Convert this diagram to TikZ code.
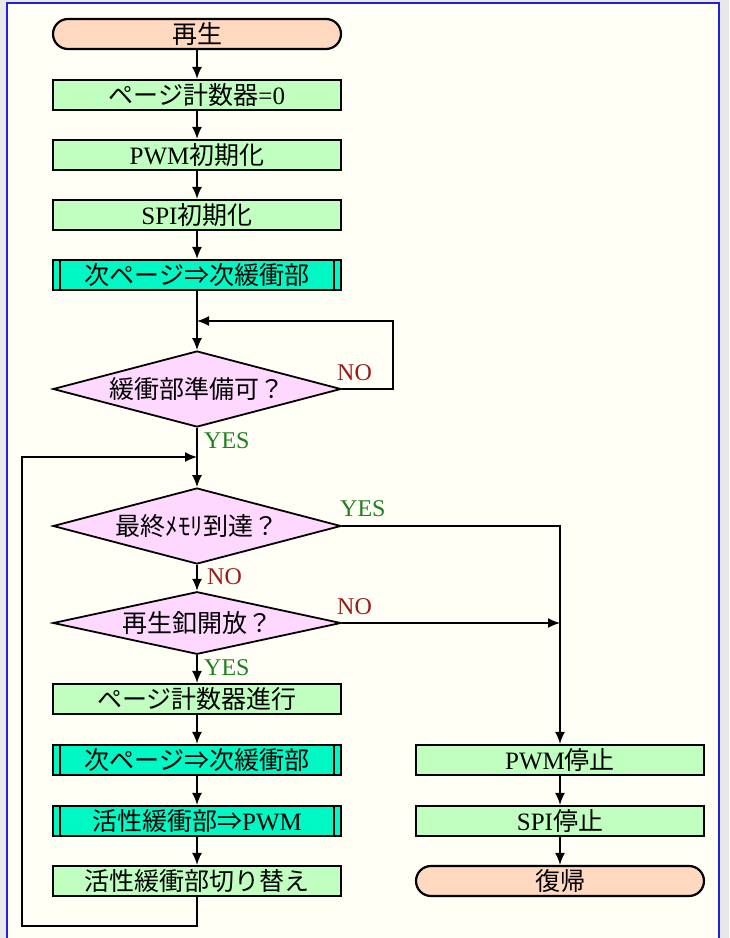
\documentclass[tikz,border=0pt]{standalone}
\usepackage{fontspec}
\setmainfont{Liberation Serif}
\newfontfamily\jp{Noto Sans CJK JP}
\usetikzlibrary{shapes.geometric,arrows.meta}
\newcommand\J[1]{{\jp #1}}
\definecolor{outergray}{HTML}{E8E8E8}
\definecolor{ivory}{HTML}{FFFFF6}
\definecolor{frameblue}{HTML}{2020E0}
\definecolor{peach}{HTML}{FFD8C0}
\definecolor{procgreen}{HTML}{C0FFC0}
\definecolor{tealfill}{HTML}{00F8C4}
\definecolor{pinkfill}{HTML}{FFD8FF}
\definecolor{yesgreen}{HTML}{1E801E}
\definecolor{nored}{HTML}{9A1A1A}
\begin{document}
\begin{tikzpicture}[x=1pt,y=-1pt,
  txt/.style={font=\fontsize{25}{27}\selectfont},
  proc/.style={draw, line width=2.2pt, fill=procgreen, minimum width=288pt, minimum height=30pt, inner sep=0pt, txt},
  term/.style={proc, fill=peach, rounded corners=15pt},
  pre/.style={proc, fill=tealfill},
  dec/.style={diamond, draw, line width=1.8pt, fill=pinkfill, aspect=3.8, minimum width=288pt, minimum height=76pt, inner sep=0pt, txt},
  lab/.style={font=\fontsize{24}{26}\selectfont, inner sep=0pt},
  conn/.style={line width=1.5pt},
  arr/.style={conn, -{Latex[length=12pt,width=10pt]}}
]
\useasboundingbox (0,0) rectangle (729,938);
\fill[outergray] (0,0) rectangle (729,938);
\draw[fill=ivory, draw=frameblue, line width=2pt] (7,3) rectangle (719,960);

% left column
\node[term] (start) at (197,34) {\J{再生}};
\node[proc] (p1) at (197,95) {\J{ページ計数器}=0};
\node[proc] (p2) at (197,155) {PWM\J{初期化}};
\node[proc] (p3) at (197,215) {SPI\J{初期化}};
\node[pre]  (s1) at (197,275) {\J{次ページ⇒次緩衝部}};
\node[dec]  (d1) at (197,389) {\J{緩衝部準備可？}};
\node[dec]  (d2) at (197,526) {\J{最終ﾒﾓﾘ到達？}};
\node[dec, minimum height=60pt] (d3) at (197,623) {\J{再生釦開放？}};
\node[proc] (p4) at (197,699) {\J{ページ計数器進行}};
\node[pre]  (s2) at (197,760) {\J{次ページ⇒次緩衝部}};
\node[pre]  (s3) at (197,821) {\J{活性緩衝部⇒}PWM};
\node[proc] (p5) at (197,881) {\J{活性緩衝部切り替え}};

% right column
\node[proc] (r1) at (560,760) {PWM\J{停止}};
\node[proc] (r2) at (560,821) {SPI\J{停止}};
\node[term] (stop) at (560,881) {\J{復帰}};

% predefined-process inner lines
\foreach \n in {s1,s2,s3}{
  \draw[line width=1.4pt] ([xshift=8pt]\n.north west) -- ([xshift=8pt]\n.south west);
  \draw[line width=1.4pt] ([xshift=-8pt]\n.north east) -- ([xshift=-8pt]\n.south east);
}

% coordinates
\coordinate (loopin1) at (197,321);
\coordinate (loopin2) at (197,457);
\coordinate (join) at (560,623);

% straight connectors
\draw[arr] (start) -- (p1);
\draw[arr] (p1) -- (p2);
\draw[arr] (p2) -- (p3);
\draw[arr] (p3) -- (s1);
\draw[arr] (s1) -- (d1);
\draw[arr] (d1) -- (d2);
\draw[arr] (d2) -- (d3);
\draw[arr] (d3) -- (p4);
\draw[arr] (p4) -- (s2);
\draw[arr] (s2) -- (s3);
\draw[arr] (s3) -- (p5);
\draw[arr] (r1) -- (r2);
\draw[arr] (r2) -- (stop);

% loops and branches
\draw[arr] (d1.east) -- (393,389) -- (393,321) -- (loopin1);
\draw[arr] (p5.south) -- (197,926) -- (22,926) -- (22,457) -- (loopin2);
\draw[arr] (d2.east) -- (560,526) -- (r1.north);
\draw[arr] (d3.east) -- (join);

% labels
\node[lab, text=nored, anchor=west] at (337,373) {NO};
\node[lab, text=yesgreen, anchor=west] at (204,441) {YES};
\node[lab, text=yesgreen, anchor=west] at (340,509) {YES};
\node[lab, text=nored, anchor=west] at (207,577) {NO};
\node[lab, text=nored, anchor=west] at (337,607) {NO};
\node[lab, text=yesgreen, anchor=west] at (204,668) {YES};
\end{tikzpicture}
\end{document}
